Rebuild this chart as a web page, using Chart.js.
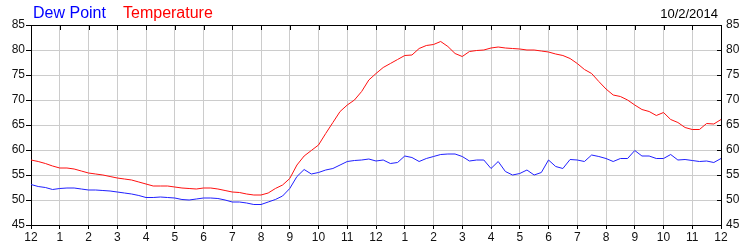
<!DOCTYPE html>
<html>
<head>
    <title>Dew Point / Temperature</title>
    <script src="https://cdn.jsdelivr.net/npm/chart.js"></script>
    <style>
        body {
            margin: 0;
            background-color: #ffffff;
        }
        canvas {
            display: block;
        }
    </style>
</head>
<body>
    <canvas id="chart" width="750" height="250"></canvas>

    <script>
        // hour labels along the bottom axis (midnight to midnight)
        const hourLabels = ['12', '1', '2', '3', '4', '5', '6', '7', '8', '9', '10', '11',
                            '12', '1', '2', '3', '4', '5', '6', '7', '8', '9', '10', '11', '12'];
        const yTicks = [45, 50, 55, 60, 65, 70, 75, 80, 85];
        const chartDate = '10/2/2014';

        // readings every 15 minutes, starting at midnight
        const temperature = [
            58.0, 57.7, 57.3, 56.8, 56.4, 56.4, 56.2, 55.8, 55.4, 55.2, 55.0, 54.7,
            54.4, 54.2, 54.0, 53.6, 53.2, 52.8, 52.8, 52.8, 52.6, 52.4, 52.3, 52.2,
            52.4, 52.4, 52.2, 51.9, 51.6, 51.5, 51.2, 51.0, 51.0, 51.4, 52.3, 53.0,
            54.3, 57.0, 58.8, 59.9, 61.0, 63.3, 65.5, 67.7, 69.0, 70.0, 71.7, 74.0,
            75.3, 76.5, 77.3, 78.1, 78.9, 79.0, 80.3, 80.9, 81.1, 81.7, 80.7, 79.3,
            78.7, 79.7, 79.9, 80.0, 80.4, 80.6, 80.4, 80.3, 80.2, 80.0, 80.0, 79.8,
            79.6, 79.2, 78.9, 78.3, 77.3, 76.1, 75.3, 73.7, 72.2, 71.0, 70.7, 70.0,
            69.0, 68.1, 67.7, 66.9, 67.5, 66.1, 65.5, 64.5, 64.1, 64.1, 65.3, 65.2,
            66.1
        ];
        const dewPoint = [
            53.1, 52.7, 52.5, 52.1, 52.3, 52.4, 52.4, 52.2, 52.0, 52.0, 51.9, 51.8,
            51.6, 51.4, 51.2, 50.9, 50.5, 50.5, 50.6, 50.5, 50.4, 50.1, 50.0, 50.2,
            50.4, 50.4, 50.3, 50.0, 49.6, 49.6, 49.4, 49.1, 49.1, 49.6, 50.1, 50.8,
            52.3, 54.7, 56.1, 55.2, 55.5, 56.0, 56.3, 57.0, 57.7, 57.9, 58.0, 58.2,
            57.8, 58.0, 57.3, 57.5, 58.8, 58.5, 57.7, 58.3, 58.7, 59.1, 59.2, 59.2,
            58.7, 57.8, 58.0, 58.0, 56.3, 57.7, 55.7, 55.0, 55.3, 56.0, 55.0, 55.5,
            58.0, 56.7, 56.3, 58.1, 58.0, 57.7, 59.0, 58.7, 58.3, 57.7, 58.3, 58.3,
            59.9, 58.8, 58.8, 58.3, 58.3, 59.1, 58.0, 58.1, 57.9, 57.7, 57.8, 57.5,
            58.3
        ];

        const toPoints = arr => arr.map((v, i) => ({ x: i / 4, y: v }));

        const tickFont = { family: '"Liberation Sans", Arial, sans-serif', size: 12 };
        const gridColor = '#cccccc';

        // header texts + the inward tick marks on top and right edges
        const frame = {
            id: 'frame',
            afterDraw(chart) {
                const ctx = chart.ctx;
                const area = chart.chartArea;
                const xs = chart.scales.x;
                const yr = chart.scales.yRight;
                ctx.save();
                ctx.strokeStyle = '#000';
                ctx.lineWidth = 1;
                ctx.beginPath();
                for (let h = 1; h < hourLabels.length - 1; h++) {
                    const px = Math.round(xs.getPixelForValue(h)) + 0.5;
                    ctx.moveTo(px, area.top);
                    ctx.lineTo(px, area.top + 5);
                }
                yTicks.forEach(v => {
                    const py = Math.round(yr.getPixelForValue(v)) + 0.5;
                    ctx.moveTo(area.right - 4, py);
                    ctx.lineTo(area.right, py);
                });
                ctx.stroke();

                ctx.textBaseline = 'alphabetic';
                ctx.font = '16px "Liberation Sans", Arial, sans-serif';
                ctx.textAlign = 'left';
                ctx.fillStyle = '#0000ff';
                ctx.fillText('Dew Point', 33, 18);
                ctx.fillStyle = '#ff0000';
                ctx.fillText('Temperature', 123, 18);
                ctx.font = '13px "Liberation Sans", Arial, sans-serif';
                ctx.textAlign = 'right';
                ctx.fillStyle = '#000';
                ctx.fillText(chartDate, 718, 18);
                ctx.restore();
            }
        };

        new Chart(document.getElementById('chart').getContext('2d'), {
            type: 'line',
            data: {
                datasets: [
                    {
                        label: 'Dew Point',
                        data: toPoints(dewPoint),
                        borderColor: '#2020ff',
                        borderWidth: 1,
                        pointRadius: 0,
                        yAxisID: 'y'
                    },
                    {
                        label: 'Temperature',
                        data: toPoints(temperature),
                        borderColor: '#ff1010',
                        borderWidth: 1,
                        pointRadius: 0,
                        yAxisID: 'y'
                    }
                ]
            },
            options: {
                responsive: false,
                animation: false,
                devicePixelRatio: 1,
                layout: { padding: 0 },
                plugins: {
                    legend: { display: false },
                    tooltip: { enabled: false }
                },
                scales: {
                    x: {
                        type: 'linear',
                        position: 'bottom',
                        min: 0,
                        max: 24,
                        afterFit: s => { s.height = 25; },
                        afterBuildTicks: s => {
                            s.ticks = hourLabels.map((_, i) => ({ value: i }));
                        },
                        ticks: {
                            autoSkip: false,
                            maxRotation: 0,
                            padding: 1,
                            color: '#111',
                            font: tickFont,
                            callback: v => hourLabels[v]
                        },
                        grid: { color: gridColor, tickColor: '#000', tickLength: 4 },
                        border: { color: '#000', width: 1 }
                    },
                    xTop: {
                        type: 'linear',
                        position: 'top',
                        min: 0,
                        max: 24,
                        afterFit: s => { s.height = 25; },
                        ticks: { display: false },
                        grid: { drawOnChartArea: false, drawTicks: false },
                        border: { color: '#000', width: 1 }
                    },
                    y: {
                        position: 'left',
                        min: 45,
                        max: 85,
                        afterFit: s => { s.width = 31; },
                        afterBuildTicks: s => {
                            s.ticks = yTicks.map(v => ({ value: v }));
                        },
                        ticks: { padding: 1, color: '#111', font: tickFont },
                        grid: { color: gridColor, tickColor: '#000', tickLength: 5 },
                        border: { color: '#000', width: 1 }
                    },
                    yRight: {
                        position: 'right',
                        min: 45,
                        max: 85,
                        afterFit: s => { s.width = 29; },
                        afterBuildTicks: s => {
                            s.ticks = yTicks.map(v => ({ value: v }));
                        },
                        ticks: { padding: 5, color: '#111', font: tickFont },
                        grid: { drawOnChartArea: false, drawTicks: false },
                        border: { color: '#000', width: 1 }
                    }
                }
            },
            plugins: [frame]
        });
    </script>
</body>
</html>
